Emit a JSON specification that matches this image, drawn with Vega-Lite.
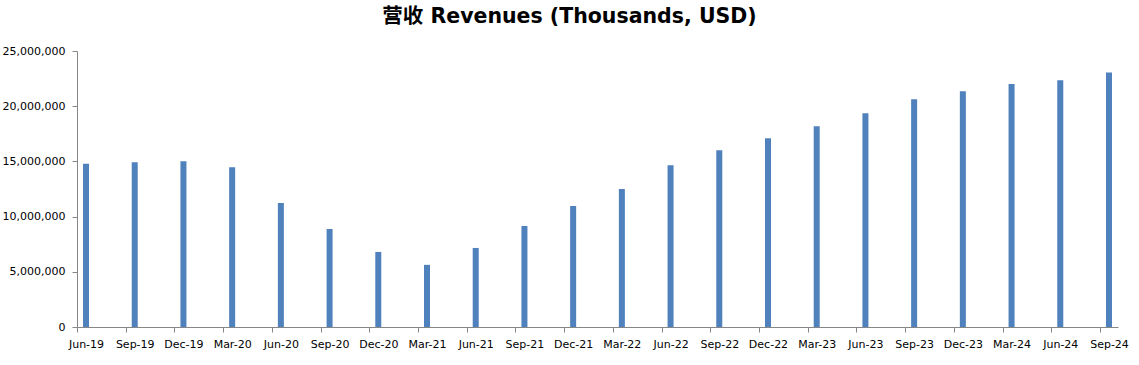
{
  "$schema": "https://vega.github.io/schema/vega-lite/v6.json",
  "autosize": {"type": "none"},
  "width": 1041,
  "height": 276,
  "padding": {"left": 77, "top": 51, "right": 21, "bottom": 38},
  "background": "white",
  "title": {
    "text": "营收 Revenues (Thousands, USD)",
    "font": "DejaVu Sans, Noto Sans CJK SC",
    "fontSize": 20.5,
    "fontWeight": "bold",
    "color": "#000000",
    "anchor": "middle",
    "dx": -28,
    "offset": 18
  },
  "data": {
    "values": [
      {"q": "Jun-19", "rev": 14780000},
      {"q": "Sep-19", "rev": 14930000},
      {"q": "Dec-19", "rev": 15020000},
      {"q": "Mar-20", "rev": 14480000},
      {"q": "Jun-20", "rev": 11230000},
      {"q": "Sep-20", "rev": 8880000},
      {"q": "Dec-20", "rev": 6800000},
      {"q": "Mar-21", "rev": 5630000},
      {"q": "Jun-21", "rev": 7160000},
      {"q": "Sep-21", "rev": 9150000},
      {"q": "Dec-21", "rev": 10960000},
      {"q": "Mar-22", "rev": 12490000},
      {"q": "Jun-22", "rev": 14660000},
      {"q": "Sep-22", "rev": 16020000},
      {"q": "Dec-22", "rev": 17100000},
      {"q": "Mar-23", "rev": 18180000},
      {"q": "Jun-23", "rev": 19360000},
      {"q": "Sep-23", "rev": 20620000},
      {"q": "Dec-23", "rev": 21350000},
      {"q": "Mar-24", "rev": 22010000},
      {"q": "Jun-24", "rev": 22340000},
      {"q": "Sep-24", "rev": 23060000}
    ]
  },
  "mark": {"type": "bar", "color": "#4F81BD", "width": 6},
  "encoding": {
    "x": {
      "field": "q",
      "type": "ordinal",
      "sort": null,
      "scale": {"type": "point", "padding": 0.185},
      "axis": {
        "title": null,
        "labelAngle": 0,
        "domainColor": "#868686",
        "tickColor": "#868686",
        "tickSize": 5,
        "tickOffset": -9,
        "labelOffset": 9,
        "labelPadding": 6,
        "labelFont": "DejaVu Sans",
        "labelFontSize": 11,
        "labelColor": "#000000",
        "labelBaseline": "top"
      }
    },
    "y": {
      "field": "rev",
      "type": "quantitative",
      "scale": {"domain": [0, 25000000], "nice": false},
      "axis": {
        "title": null,
        "values": [0, 5000000, 10000000, 15000000, 20000000, 25000000],
        "format": ",.0f",
        "grid": false,
        "domainColor": "#868686",
        "tickColor": "#868686",
        "tickSize": 5,
        "labelPadding": 7,
        "labelFont": "DejaVu Sans",
        "labelFontSize": 11,
        "labelColor": "#000000"
      }
    }
  },
  "config": {"view": {"stroke": null}}
}
